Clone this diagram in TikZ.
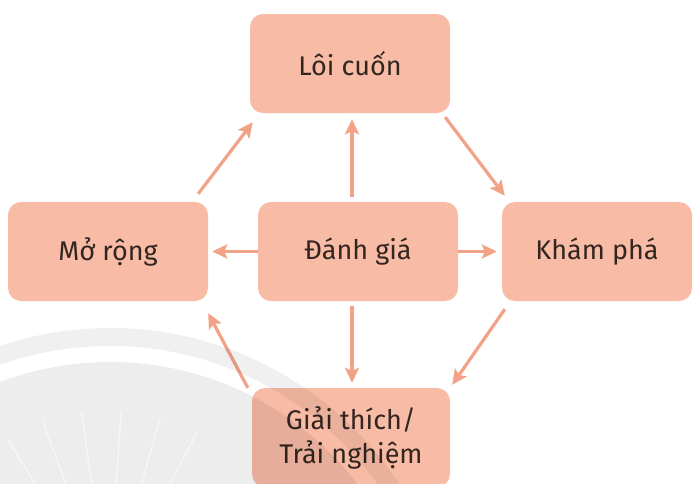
\documentclass[tikz,border=0pt]{standalone}
\usepackage{fontspec}
\setmainfont{Fira Sans}
\usetikzlibrary{arrows.meta,calc}
\definecolor{boxfill}{HTML}{F8BCA6}
\definecolor{arrcol}{HTML}{F2A287}
\definecolor{txtcol}{HTML}{33251F}
\tikzset{
  stagebox/.style={rectangle, rounded corners=13pt, fill=boxfill, draw=none,
    minimum width=200pt, minimum height=99pt, inner sep=0pt,
    font=\fontsize{27}{34}\selectfont, text=txtcol, align=center},
  arr/.style={draw=arrcol, line width=3.2pt,
    -{Stealth[length=15pt,width=14pt,inset=3pt]}}
}
\begin{document}
\begin{tikzpicture}[x=1pt,y=-1pt]
\useasboundingbox (0,0) rectangle (693,483);
\fill[white] (0,0) rectangle (693,483);
\begin{scope}
\clip (0,0) rectangle (693,483);
\node[stagebox] (lc) at (350,63.5) {Lôi cuốn};
\node[stagebox] (mr) at (108,251.5) {Mở rộng};
\node[stagebox] (dg) at (358,251.5) {Đánh giá};
\node[stagebox, minimum width=190pt] (kp) at (597,251.5) {Khám phá};
\node[stagebox, minimum width=198pt] (gt) at (351,437.5) {Giải thích/\\Trải nghiệm};
% connectors
\draw[arr] ($(mr.north east)+(-10,-8)$) -- ($(lc.south west)+(3,9)$);
\draw[arr] ($(lc.south east)+(-5,4)$) -- ($(kp.north west)+(3,-6)$);
\draw[arr] ($(kp.south west)+(3,8)$) -- ($(gt.north east)+(2,-3)$);
\draw[arr] ($(gt.north west)+(-4,0)$) -- ($(mr.south east)+(0,12)$);
\draw[arr] ($(dg.north -| lc.south)+(2,-5)$) -- ($(lc.south)+(2,6)$);
\draw[arr] ($(dg.south -| gt.north)+(1,5)$) -- ($(gt.north)+(1,-5)$);
\draw[arr] (dg.west) -- ($(mr.east)+(4,0)$);
\draw[arr] (dg.east) -- ($(kp.west)+(-5,0)$);
% faint watermark
\fill[black, opacity=0.07] (110,674) circle[radius=312pt];
\fill[black, opacity=0.06, even odd rule] (110,674) circle[radius=346pt] (110,674) circle[radius=328pt];
\begin{scope}
\clip (0,380) rectangle (235,483);
\foreach \a in {62,74,86,98,110,122}
  \draw[white, opacity=0.5, line width=1.5pt] (108,600) -- ++(\a:190pt);
\end{scope}
\end{scope}
\end{tikzpicture}
\end{document}
